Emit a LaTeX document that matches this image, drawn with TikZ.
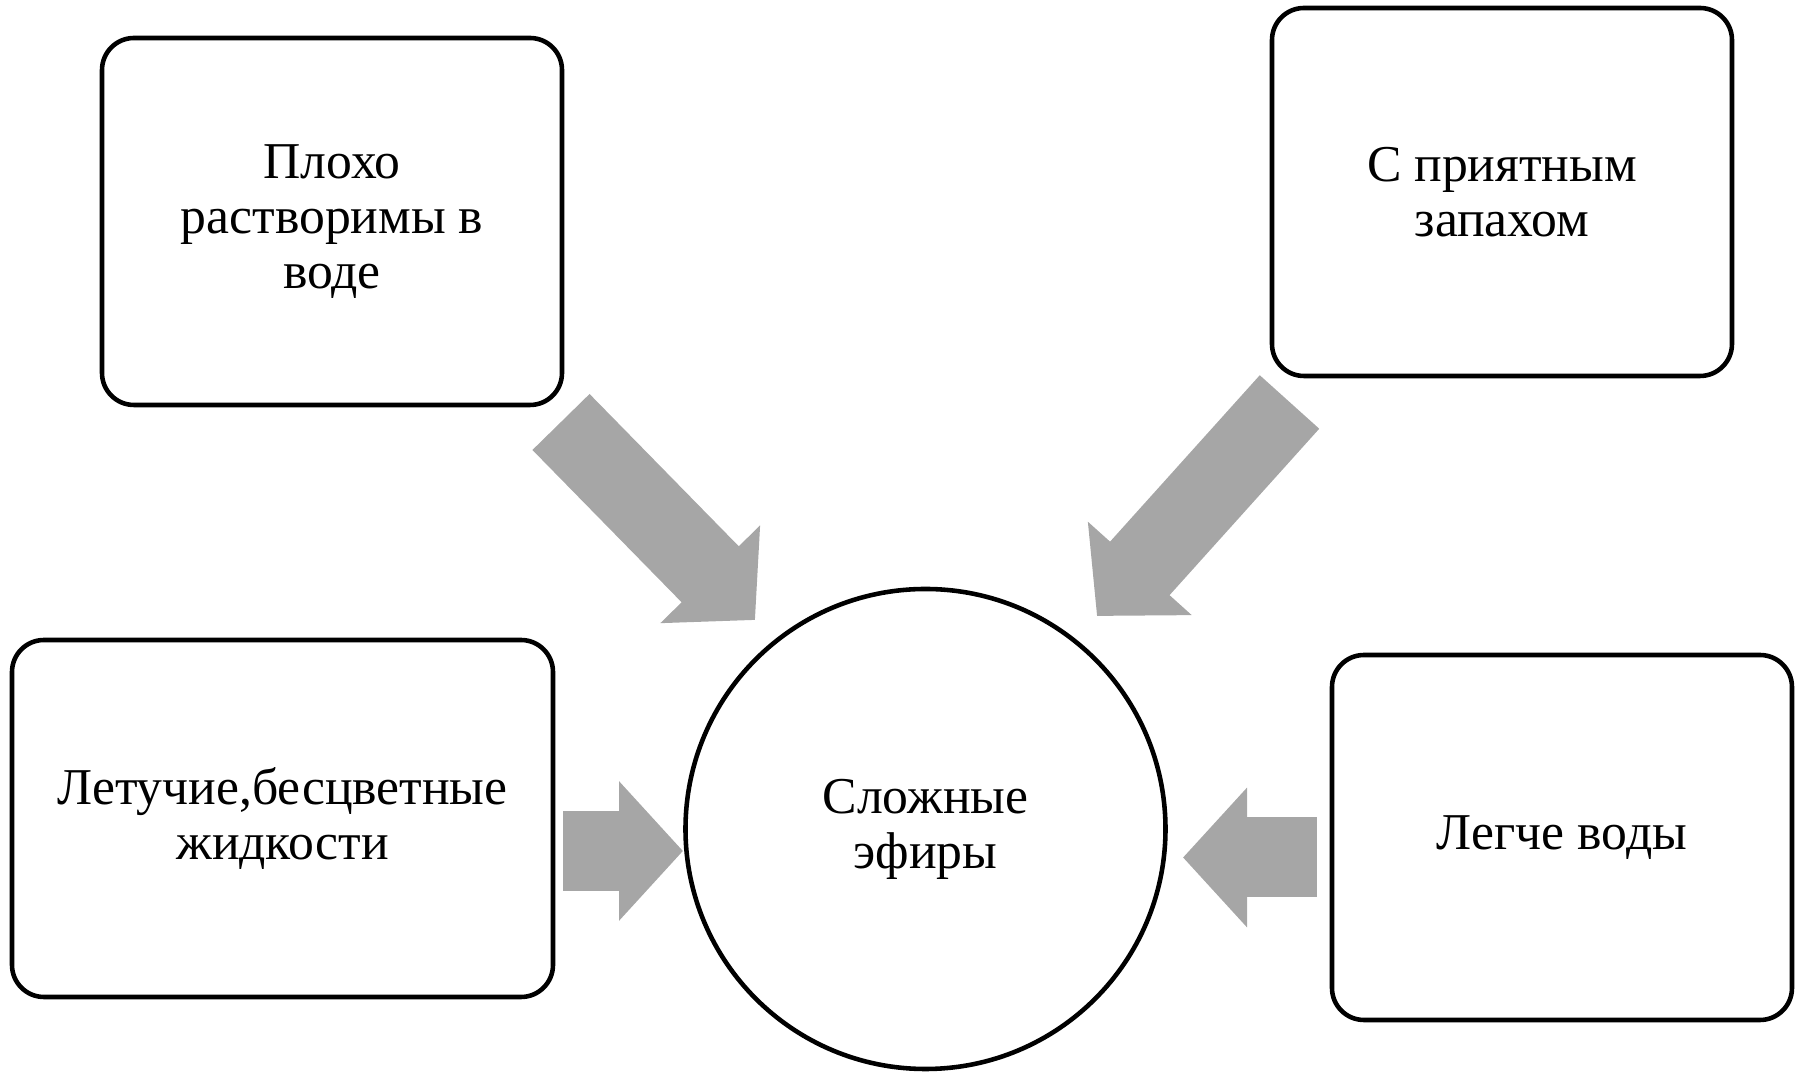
\documentclass[tikz,border=0pt]{standalone}
\usepackage{fontspec}
\setmainfont{Liberation Serif}
\usetikzlibrary{arrows.meta}
\definecolor{arrowgray}{RGB}{166,166,166}
\tikzset{
  infobox/.style={draw, line width=1.3pt, rounded corners=0.32cm, align=center,
    inner sep=0pt, font=\fontsize{14.7}{15.7}\selectfont},
  centre/.style={draw, circle, line width=1.3pt, align=center, inner sep=0pt,
    minimum size=4.8cm, font=\fontsize{14.7}{15.7}\selectfont},
  fatarrow/.style={draw=arrowgray, line width=0.8cm,
    -{Triangle[width=1.36cm,length=0.64cm,color=arrowgray]}}
}
\begin{document}
\begin{tikzpicture}[x=1cm,y=-1cm]
\useasboundingbox (0,0) rectangle (18,10.72);
\node[infobox, minimum width=4.60cm, minimum height=3.67cm] (tl) at (3.32,2.215) {Плохо\\растворимы в\\воде};
\node[infobox, minimum width=4.60cm, minimum height=3.68cm] (tr) at (15.02,1.92) {С приятным\\запахом};
\node[infobox, minimum width=5.41cm, minimum height=3.57cm] (bl) at (2.825,8.185) {Летучие,бесцветные\\жидкости};
\node[infobox, minimum width=4.60cm, minimum height=3.65cm] (br) at (15.62,8.375) {Легче воды};
\node[centre] (est) at (9.255,8.29) {Сложные\\эфиры};
% arrow ends
\coordinate (tl-a) at (5.61,4.22);
\coordinate (tl-b) at (7.55,6.20);
\coordinate (tr-a) at (12.895,4.02);
\coordinate (tr-b) at (10.97,6.16);
\coordinate (bl-a) at (5.63,8.51);
\coordinate (bl-b) at (6.83,8.51);
\coordinate (br-a) at (13.17,8.575);
\coordinate (br-b) at (11.83,8.575);
\draw[fatarrow] (tl-a) -- (tl-b);
\draw[fatarrow] (tr-a) -- (tr-b);
\draw[fatarrow] (bl-a) -- (bl-b);
\draw[fatarrow] (br-a) -- (br-b);
\end{tikzpicture}
\end{document}
